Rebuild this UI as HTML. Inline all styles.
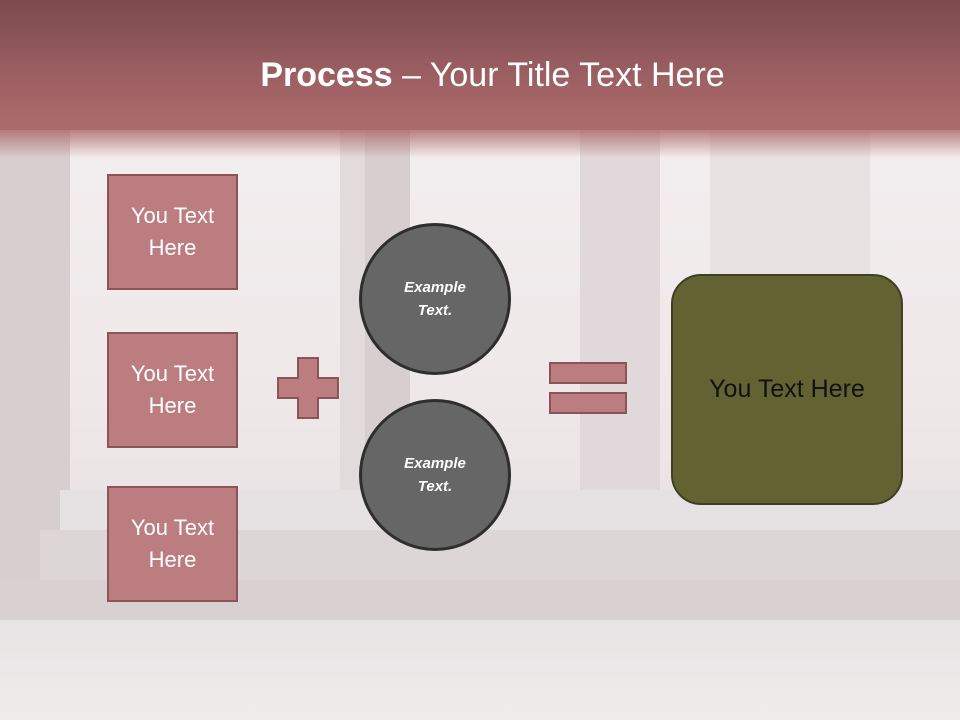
<!DOCTYPE html>
<html><head><meta charset="utf-8"><style>
body{margin:0;width:960px;height:720px;overflow:hidden;position:relative;font-family:"Liberation Sans",sans-serif;background:#ebe5e6}
div{position:absolute;box-sizing:border-box}
.box{background:#bb7d80;border:2px solid #8a5558;color:#fff;font-size:22px;text-align:center;display:flex;align-items:center;justify-content:center;line-height:32px}
.c{width:152px;height:152px;border-radius:50%;background:#666;border:3px solid #2e2e2e;color:#fff;font-style:italic;font-weight:bold;font-size:15px;display:flex;align-items:center;justify-content:center;text-align:center;line-height:23px}
.p{background:#bb7d80;border:2px solid #8a5558}
</style></head><body>
<div style="left:0;top:130px;width:960px;height:590px;background:linear-gradient(#f3eeef,#efe9ea 40%,#e6e0e1 80%,#ebe7e8)"></div>
<div style="left:0;top:130px;width:70px;height:470px;background:#d6cecf"></div>
<div style="left:340px;top:130px;width:25px;height:410px;background:#e2dbdc"></div>
<div style="left:365px;top:130px;width:45px;height:410px;background:#d6cecf"></div>
<div style="left:580px;top:130px;width:80px;height:410px;background:#e0d8da"></div>
<div style="left:710px;top:130px;width:160px;height:490px;background:#e8e2e3"></div>
<div style="left:60px;top:490px;width:900px;height:40px;background:#e6e1e2"></div>
<div style="left:40px;top:530px;width:920px;height:50px;background:#ddd6d7"></div>
<div style="left:0;top:580px;width:960px;height:40px;background:#d8d0d1"></div>
<div style="left:0;top:620px;width:960px;height:100px;background:linear-gradient(#e8e3e4,#f0ecec)"></div>
<div style="left:0;top:0;width:960px;height:130px;background:linear-gradient(#7b4b4e,#9a5e61 55%,#ae6b6d 100%)"></div>
<div style="left:0;top:128px;width:960px;height:30px;background:linear-gradient(rgba(174,107,109,.9),rgba(174,107,109,0))"></div>
<div style="left:0;top:52px;width:985px;text-align:center;color:#fff;font-size:34px;line-height:46px"><b>Process</b> – Your Title Text Here</div>
<div class="box" style="left:107px;top:174px;width:131px;height:116px">You Text<br>Here</div>
<div class="box" style="left:107px;top:332px;width:131px;height:116px">You Text<br>Here</div>
<div class="box" style="left:107px;top:486px;width:131px;height:116px">You Text<br>Here</div>
<svg style="position:absolute;left:0;top:0" width="960" height="720"><polygon points="298,358 318,358 318,378 338,378 338,398 318,398 318,418 298,418 298,398 278,398 278,378 298,378" fill="#bb7d80" stroke="#8a5558" stroke-width="2"/></svg>
<div class="c" style="left:359px;top:223px">Example<br>Text.</div>
<div class="c" style="left:359px;top:399px">Example<br>Text.</div>
<div class="p" style="left:549px;top:362px;width:78px;height:22px"></div>
<div class="p" style="left:549px;top:392px;width:78px;height:22px"></div>
<div style="left:671px;top:274px;width:232px;height:231px;border-radius:30px;background:#636233;border:2px solid #3f3f22;color:#111;font-size:25px;display:flex;align-items:center;justify-content:center">You Text Here</div>
</body></html>
